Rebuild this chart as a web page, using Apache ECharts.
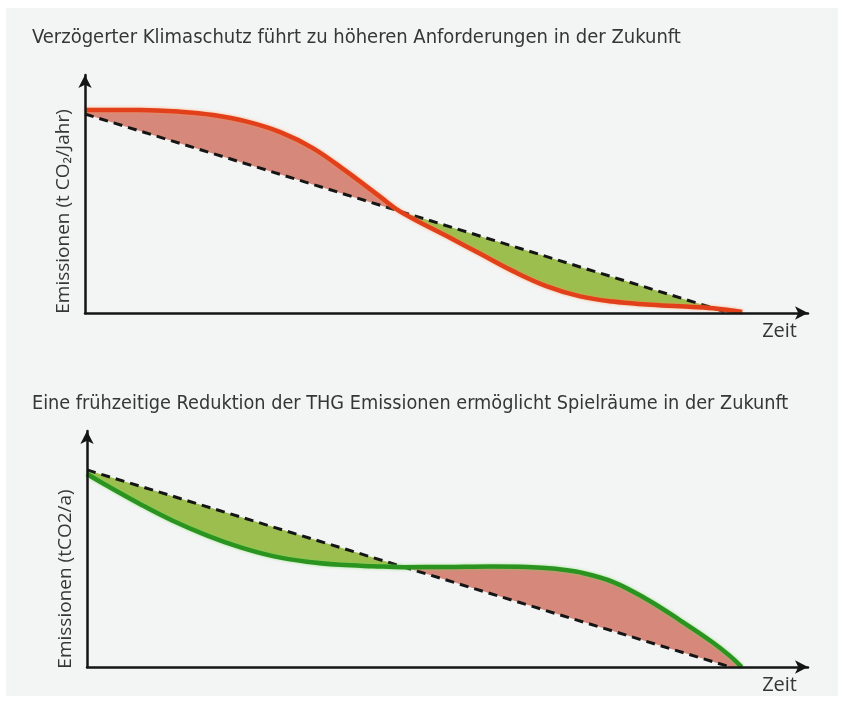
<!DOCTYPE html>
<html>
<head>
<meta charset="utf-8">
<script src="https://cdn.jsdelivr.net/npm/echarts@6/dist/echarts.min.js"></script>
<style>
  html, body { margin: 0; padding: 0; background: #ffffff; }
  #paper { position: absolute; left: 6px; top: 8px; width: 832px; height: 688px; background: #f3f4f4; }
  #main { position: absolute; left: 0; top: 0; width: 845px; height: 702px; }
</style>
</head>
<body>
<div id="paper"></div>
<div id="main"></div>
<script>
// top chart: delayed climate protection (red curve) vs. linear path (dashed)
var topTime = [0, 7.6, 13.1, 17.7, 22.4, 27.0, 31.5, 36.2, 40.8, 43.6, 50.1, 54.6, 59.2, 63.9, 68.5, 73.0, 77.7, 82.3, 86.9, 90.9];
var topDelayed = [85.3, 85.3, 84.6, 83.2, 80.4, 76.0, 69.3, 59.4, 48.9, 42.6, 32.2, 25.0, 17.6, 11.2, 7.0, 4.8, 3.6, 2.8, 2.0, 0.4];
var topCross = 9;
var topLinearTime = [0, 89.1];
var topLinear = [83.6, 0];

// bottom chart: early reduction (green curve) vs. linear path (dashed)
var botTime = [0, 2.8, 7.4, 11.9, 16.6, 21.2, 25.8, 30.5, 35.1, 39.7, 44.1, 49.9, 56.0, 61.0, 65.0, 68.4, 73.0, 77.7, 82.2, 86.8, 89.2, 90.8];
var botEarly = [81.8, 76.8, 69.0, 62.0, 55.8, 50.8, 47.0, 44.6, 43.3, 42.7, 42.3, 42.4, 42.6, 42.4, 41.6, 40.1, 36.0, 28.6, 19.9, 10.4, 4.6, 0];
var botCross = 10;
var botLinearTime = [0, 89.2];
var botLinear = [83.5, 0];

var titles = [
    'Verzögerter Klimaschutz führt zu höheren Anforderungen in der Zukunft',
    'Eine frühzeitige Reduktion der THG Emissionen ermöglicht Spielräume in der Zukunft'
];
var yNames = ['Emissionen (t CO₂/Jahr)', 'Emissionen (tCO2/a)'];
var xName = 'Zeit';

var salmon = '#d6887b';
var leaf = '#9cbe4e';
var textCol = '#363636';
var titleFont = "'Liberation Sans Narrow', 'DejaVu Sans Condensed', sans-serif";
var labelFont = "'Open Sans', 'DejaVu Sans', sans-serif";

function pairs(xs, ys) {
    return xs.map(function(x, i) { return [x, ys[i]]; });
}

// fills the gap between the curve and the dashed line, split at the crossing point
function fillRenderer(xs, ys, lx, ly, cross, firstColor, secondColor) {
    return function(params, api) {
        var p1 = [], p2 = [];
        for (var i = 0; i <= cross; i++) p1.push(api.coord([xs[i], ys[i]]));
        p1.push(api.coord([lx[0], ly[0]]));
        for (var j = cross; j < xs.length; j++) p2.push(api.coord([xs[j], ys[j]]));
        p2.push(api.coord([lx[1], ly[1]]));
        return {
            type: 'group',
            children: [
                { type: 'polygon', shape: { points: p1 }, style: { fill: firstColor } },
                { type: 'polygon', shape: { points: p2 }, style: { fill: secondColor } }
            ]
        };
    };
}

function xAxisCfg(idx) {
    return {
        type: 'value', gridIndex: idx, min: 0, max: 100, z: 10,
        name: xName, nameLocation: 'end', nameGap: -11,
        nameTextStyle: { color: textCol, fontSize: 20, fontFamily: labelFont, align: 'right', verticalAlign: 'top', padding: [8, 0, 0, 0] },
        axisLine: { lineStyle: { color: '#151515', width: 2.5 }, symbol: ['none', 'arrow'], symbolSize: [10, 13] },
        axisTick: { show: false }, axisLabel: { show: false }, splitLine: { show: false }
    };
}

function yAxisCfg(idx, shift) {
    return {
        type: 'value', gridIndex: idx, min: 0, max: 100, z: 10,
        name: yNames[idx], nameLocation: 'middle', nameGap: 12, nameRotate: 90,
        nameTextStyle: { color: textCol, fontSize: 19, fontFamily: labelFont, padding: [0, shift, 0, 0] },
        axisLine: { lineStyle: { color: '#151515', width: 2.5 }, symbol: ['none', 'arrow'], symbolSize: [10, 13] },
        axisTick: { show: false }, axisLabel: { show: false }, splitLine: { show: false }
    };
}

var chart = echarts.init(document.getElementById('main'));

var option = {
    animation: false,
    backgroundColor: 'transparent',
    title: [{
        text: titles[0], left: 32, top: 28, padding: 0,
        textStyle: { color: textCol, fontSize: 20, fontWeight: 'normal', fontFamily: titleFont }
    }, {
        text: titles[1], left: 32, top: 394, padding: 0,
        textStyle: { color: textCol, fontSize: 19.7, fontWeight: 'normal', fontFamily: titleFont }
    }],
    grid: [
        { left: 85, top: 75, width: 723, height: 238 },
        { left: 87, top: 431, width: 721, height: 236 }
    ],
    xAxis: [xAxisCfg(0), xAxisCfg(1)],
    yAxis: [yAxisCfg(0, 35), yAxisCfg(1, 60)],
    series: [
        {
            type: 'custom', xAxisIndex: 0, yAxisIndex: 0, z: 1, silent: true,
            data: [[0, 0]],
            renderItem: fillRenderer(topTime, topDelayed, topLinearTime, topLinear, topCross, salmon, leaf)
        },
        {
            type: 'line', xAxisIndex: 0, yAxisIndex: 0, z: 3, showSymbol: false,
            data: pairs(topLinearTime, topLinear),
            lineStyle: { color: '#151515', width: 3, type: [9, 6] }
        },
        {
            type: 'line', xAxisIndex: 0, yAxisIndex: 0, z: 4, showSymbol: false, smooth: 0.4,
            data: pairs(topTime, topDelayed),
            lineStyle: { color: '#e1401a', width: 4.5, shadowBlur: 3, shadowColor: 'rgba(255,150,80,0.7)' }
        },
        {
            type: 'custom', xAxisIndex: 1, yAxisIndex: 1, z: 1, silent: true,
            data: [[0, 0]],
            renderItem: fillRenderer(botTime, botEarly, botLinearTime, botLinear, botCross, leaf, salmon)
        },
        {
            type: 'line', xAxisIndex: 1, yAxisIndex: 1, z: 3, showSymbol: false,
            data: pairs(botLinearTime, botLinear),
            lineStyle: { color: '#151515', width: 3, type: [9, 6] }
        },
        {
            type: 'line', xAxisIndex: 1, yAxisIndex: 1, z: 4, showSymbol: false, smooth: 0.4,
            data: pairs(botTime, botEarly),
            lineStyle: { color: '#2b9421', width: 4.5, shadowBlur: 3, shadowColor: 'rgba(120,220,90,0.7)' }
        }
    ]
};

chart.setOption(option);
</script>
</body>
</html>
